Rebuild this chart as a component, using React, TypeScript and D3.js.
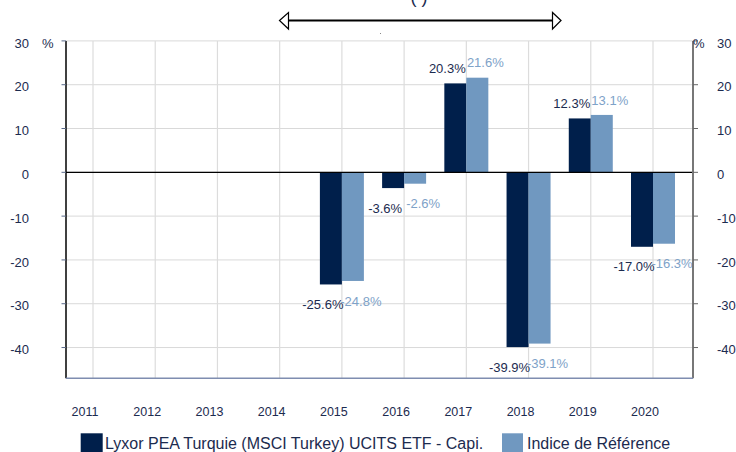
import React from "react";
import * as d3 from "d3";

const years = ["2011", "2012", "2013", "2014", "2015", "2016", "2017", "2018", "2019", "2020"];
const fundValues: (number | null)[] = [null, null, null, null, -25.6, -3.6, 20.3, -39.9, 12.3, -17.0];
const indexValues: (number | null)[] = [null, null, null, null, -24.8, -2.6, 21.6, -39.1, 13.1, -16.3];
const yTicks = [30, 20, 10, 0, -10, -20, -30, -40];
const seriesNames = ["Lyxor PEA Turquie (MSCI Turkey) UCITS ETF - Capi.", "Indice de Référence"];

const W = 736;
const H = 452;
const DARK = "#001f4b";
const LIGHT = "#7098c0";
const TXT = "#1c2b4f";
const LIGHT_TXT = "#7ea2c8";
const FONT = "'Liberation Sans', Arial, sans-serif";

export default function App() {
  const left = 66;
  const right = 693;
  const top = 40.9;
  const bottom = 378.2;
  const y = d3.scaleLinear().domain([-47, 30]).range([bottom, top]);
  const x = d3.scalePoint<string>().domain(years).range([93, 653]);
  const barW = 22;
  const fmt = (v: number) => v.toFixed(1) + "%";

  const labelY = (v: number) => (v >= 0 ? y(v) - 10.4 : y(v) + 24.6);

  return (
    <svg
      width={W}
      height={H}
      style={{ position: "absolute", left: 0, top: 0, display: "block", background: "#fff" }}
      fontFamily={FONT}
    >
      {/* top annotation */}
      <text x={419} y={3} fontSize={18} fill={TXT} textAnchor="middle">( )</text>
      <line x1={288} x2={553} y1={20.5} y2={20.5} stroke="#000" strokeWidth={2} />
      <path d="M279.5,20.5 L288.5,12.5 L288.5,29 Z" fill="#fff" stroke="#000" strokeWidth={1.2} />
      <path d="M561,20.5 L552.5,12.5 L552.5,29 Z" fill="#fff" stroke="#000" strokeWidth={1.2} />
      <rect x={380} y={33} width={1} height={1} fill="#888" />

      {/* grid */}
      {yTicks.map((t) => (
        <line key={"h" + t} x1={left} x2={right} y1={y(t)} y2={y(t)} stroke="#d9d9d9" strokeWidth={1} />
      ))}
      {years.map((yr) => (
        <line key={"v" + yr} x1={x(yr)!} x2={x(yr)!} y1={top} y2={bottom} stroke="#dcdcdc" strokeWidth={1.2} />
      ))}

      {/* bars */}
      {years.map((yr, i) => {
        const cx = x(yr)!;
        const f = fundValues[i];
        const r = indexValues[i];
        return (
          <g key={"b" + yr}>
            {f !== null && (
              <rect x={cx - barW} width={barW} y={Math.min(y(f), y(0))} height={Math.abs(y(f) - y(0))} fill={DARK} />
            )}
            {r !== null && (
              <rect x={cx} width={barW} y={Math.min(y(r), y(0))} height={Math.abs(y(r) - y(0))} fill={LIGHT} />
            )}
          </g>
        );
      })}

      {/* zero line */}
      <line x1={left} x2={right} y1={y(0)} y2={y(0)} stroke="#000" strokeWidth={1.2} />

      {/* value labels */}
      {years.map((yr, i) => {
        const cx = x(yr)!;
        const f = fundValues[i];
        const r = indexValues[i];
        return (
          <g key={"l" + yr} fontSize={13}>
            {r !== null && (
              <text x={cx + barW / 2 + 8} y={labelY(r)} textAnchor="middle" fill={LIGHT_TXT}>{fmt(r)}</text>
            )}
            {f !== null && (
              <text x={cx - barW / 2 - 8} y={labelY(f)} textAnchor="middle" fill={TXT}>{fmt(f)}</text>
            )}
          </g>
        );
      })}

      {/* axes */}
      <line x1={left} x2={left} y1={top} y2={bottom} stroke="#000" strokeWidth={1.5} />
      <line x1={right} x2={right} y1={top} y2={bottom} stroke="#777" strokeWidth={2} />
      <line x1={left} x2={right} y1={bottom} y2={bottom} stroke="#7f8db0" strokeWidth={1.5} />
      {yTicks.map((t) => (
        <g key={"t" + t}>
          <line x1={61.5} x2={left} y1={y(t)} y2={y(t)} stroke="#5a6a8a" strokeWidth={1} />
          <line x1={right} x2={698} y1={y(t)} y2={y(t)} stroke="#666" strokeWidth={1} />
          <text x={29} y={y(t) + 6.7} textAnchor="end" fontSize={13} fill={TXT}>{t}</text>
          <text x={717} y={y(t) + 6.7} textAnchor="start" fontSize={13} fill={TXT}>{t}</text>
        </g>
      ))}
      <text x={42} y={y(30) + 6.7} fontSize={13} fill={TXT}>%</text>
      <text x={693} y={y(30) + 6.7} fontSize={13} fill={TXT}>%</text>

      {/* x labels */}
      {years.map((yr) => (
        <text key={"x" + yr} x={x(yr)! - 8} y={415.7} textAnchor="middle" fontSize={12.5} fill={TXT}>{yr}</text>
      ))}

      {/* legend */}
      <rect x={80.7} y={433.3} width={22} height={22} fill={DARK} />
      <text x={105} y={448.5} fontSize={16} fill={TXT}>{seriesNames[0]}</text>
      <rect x={502} y={433.3} width={21} height={22} fill={LIGHT} />
      <text x={527} y={448.5} fontSize={16} fill={TXT}>{seriesNames[1]}</text>
    </svg>
  );
}
